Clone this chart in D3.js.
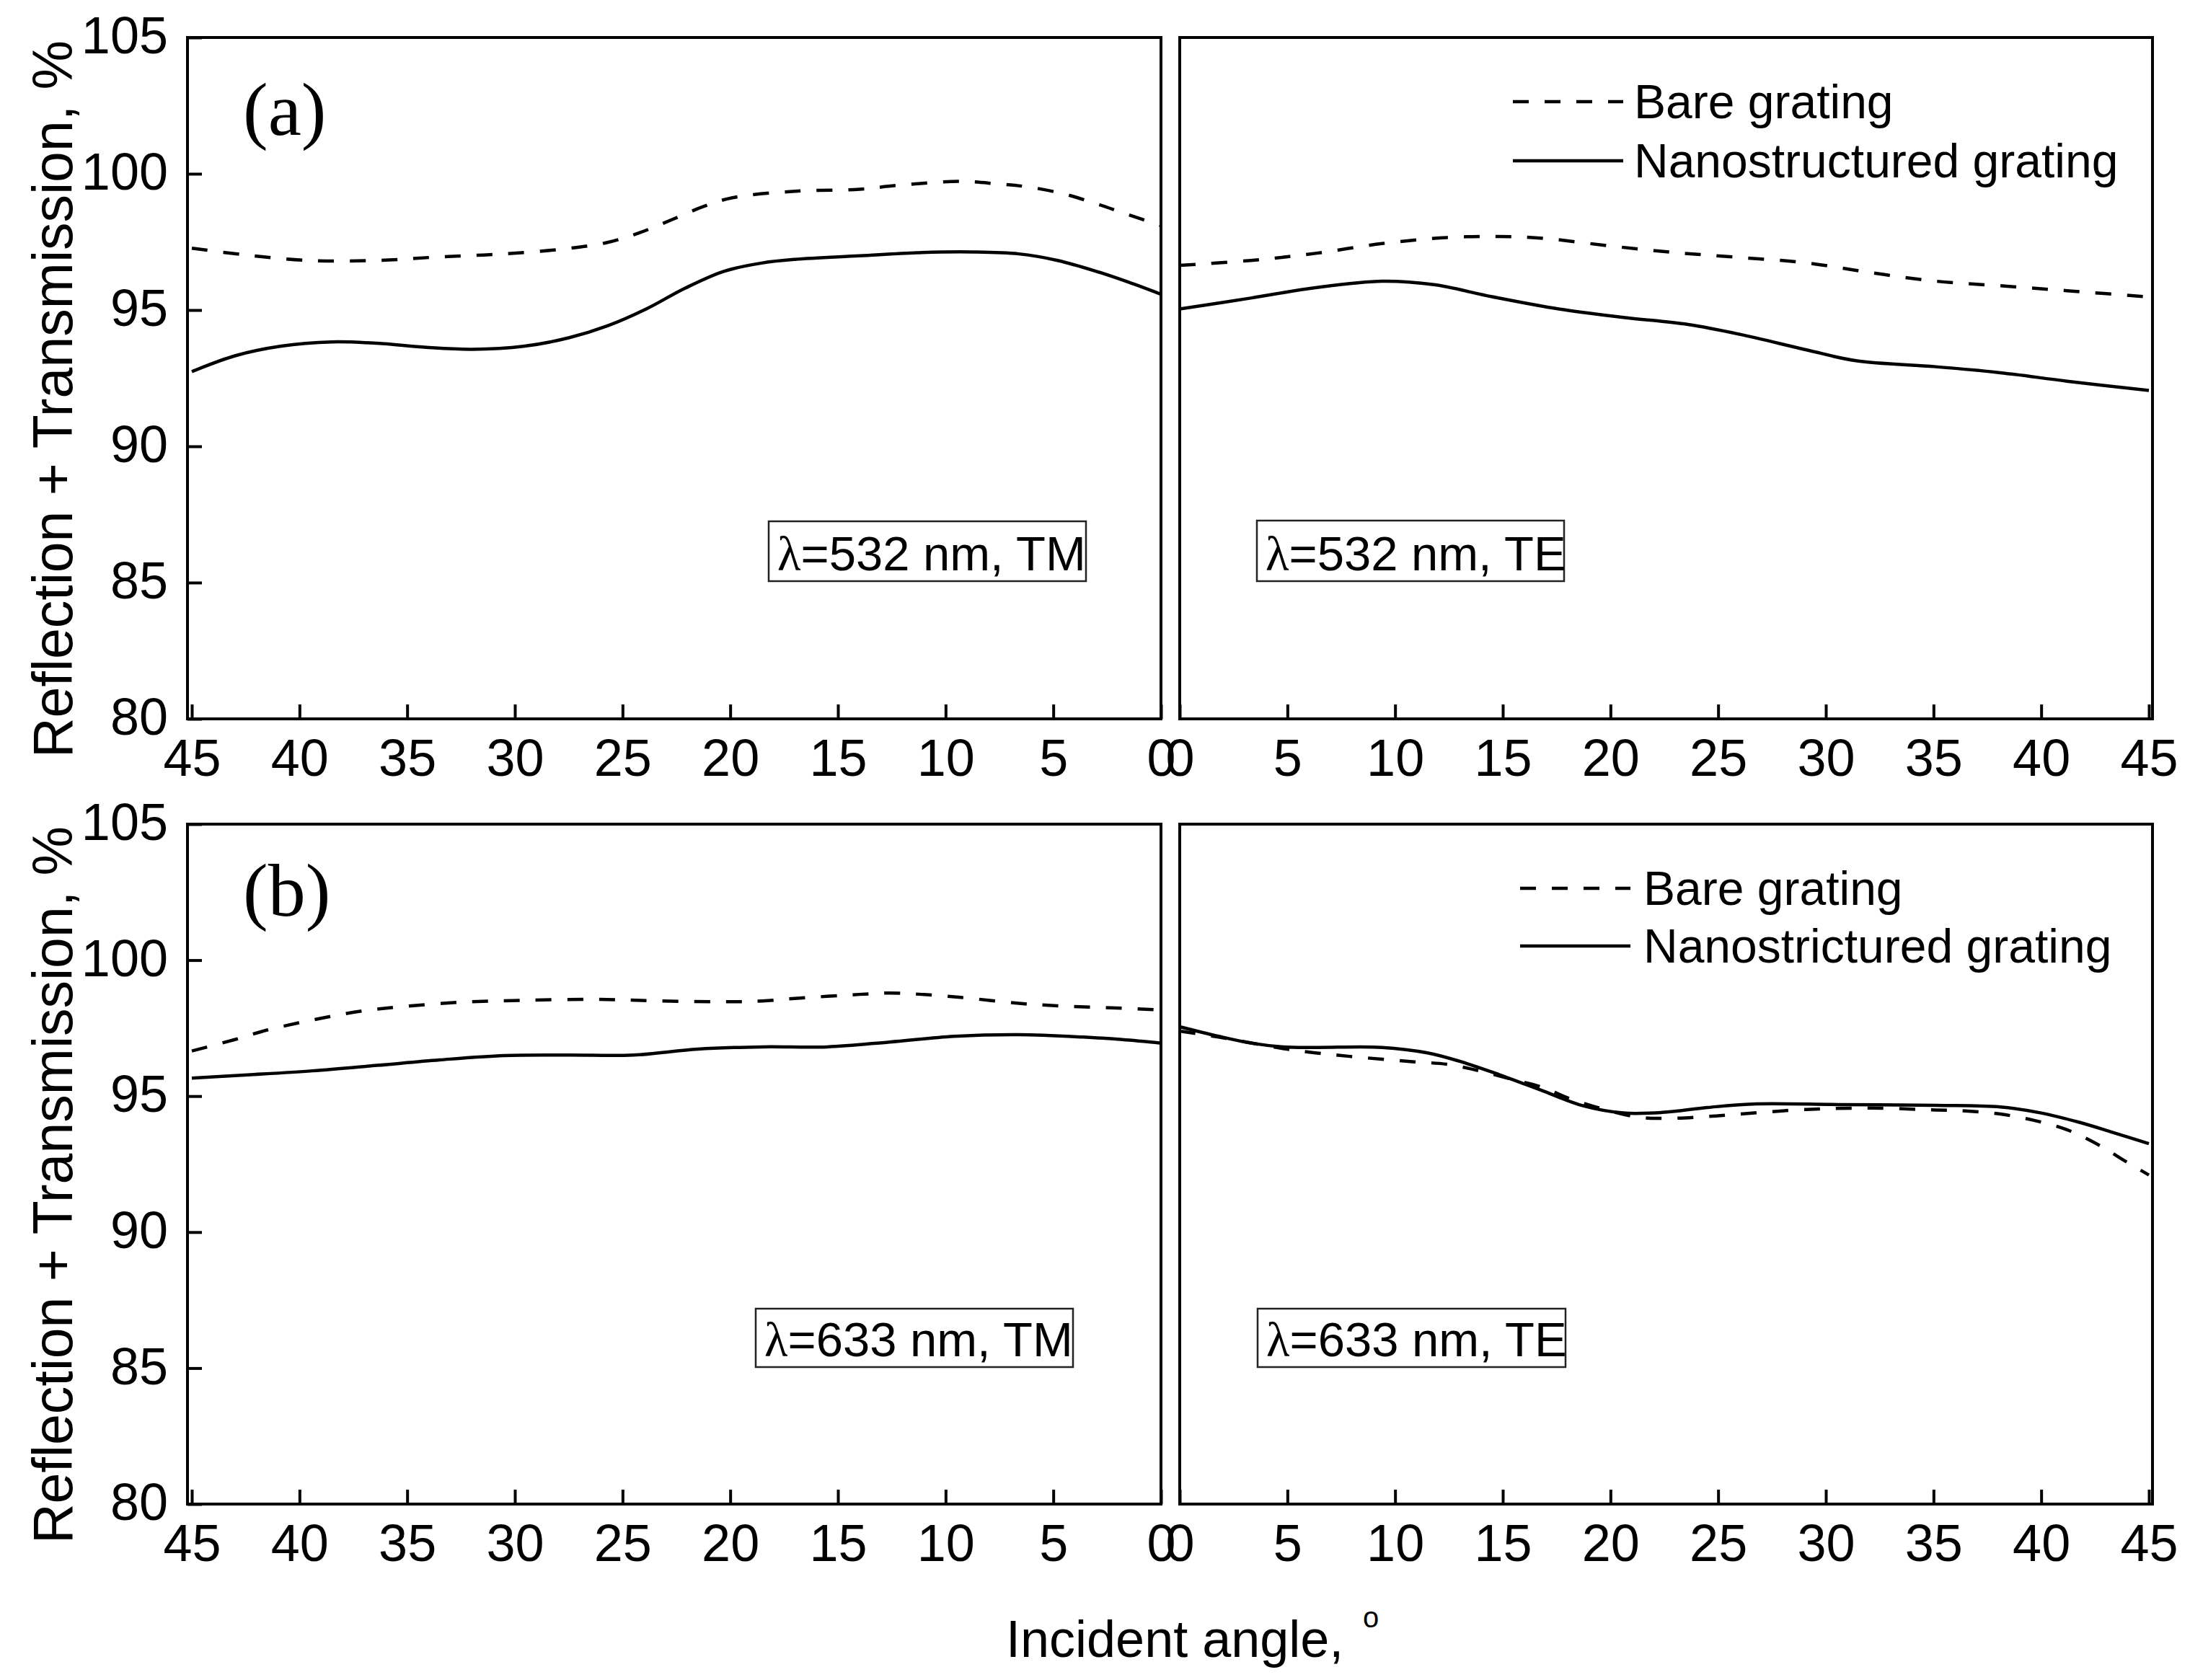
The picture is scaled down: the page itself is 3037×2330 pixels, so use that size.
<!DOCTYPE html>
<html>
<head>
<meta charset="utf-8">
<script src="https://cdn.jsdelivr.net/npm/d3@7"></script>
<style>
  body { margin: 0; background: #fff; }
  svg { display: block; }
  text { font-family: "Liberation Sans", Arial, sans-serif; fill: #000; }
</style>
</head>
<body>
<svg id="chart" width="3037" height="2330"></svg>
<script>
// ---- data ----
var angleTicks = [0, 5, 10, 15, 20, 25, 30, 35, 40, 45];
var valueTicks = [80, 85, 90, 95, 100, 105];

// (a) 532 nm, TM
var tm532BareAngle = [45, 42.7, 39.6, 36.4, 33.5, 30.5, 27.5, 25.7, 24.2, 22.7, 21.2, 19.9, 17, 14, 12.3, 9.3, 7.6, 6.2, 4.5, 3, 1.7, 0];
var tm532Bare = [97.27, 97.04, 96.82, 96.82, 96.95, 97.06, 97.26, 97.48, 97.84, 98.32, 98.81, 99.12, 99.36, 99.43, 99.57, 99.72, 99.63, 99.52, 99.26, 98.90, 98.55, 98.10];
var tm532NanoAngle = [45, 43, 40.9, 38.5, 36.4, 34.1, 32, 29.6, 27.5, 25.7, 23.9, 22.1, 20.3, 18.5, 17, 14, 11.1, 8.7, 6.6, 4.8, 3, 1.5, 0];
var tm532Nano = [92.74, 93.32, 93.67, 93.83, 93.78, 93.63, 93.56, 93.67, 93.98, 94.42, 95.04, 95.80, 96.42, 96.73, 96.86, 96.99, 97.11, 97.13, 97.06, 96.82, 96.42, 96.02, 95.58];

// (a) 532 nm, TE
var te532BareAngle = [0, 3.3, 6.3, 9.4, 12.4, 14.8, 16.9, 20, 23, 26, 29.1, 32.1, 35.1, 38.1, 41.2, 45];
var te532Bare = [96.64, 96.82, 97.08, 97.44, 97.66, 97.70, 97.63, 97.35, 97.11, 96.93, 96.73, 96.37, 96.06, 95.89, 95.71, 95.48];
var te532NanoAngle = [0, 3.3, 6.3, 9.4, 11.8, 14.5, 17.6, 20.6, 23.6, 26, 29.1, 31.4, 35.1, 38.1, 41.2, 45];
var te532Nano = [95.04, 95.44, 95.82, 96.06, 95.93, 95.49, 95.04, 94.73, 94.47, 94.11, 93.54, 93.14, 92.92, 92.70, 92.39, 92.05];

// (b) 633 nm, TM
var tm633BareAngle = [45, 43, 41.5, 40, 38.5, 37, 35.5, 32.6, 29.6, 26.3, 23.3, 20, 18.5, 17, 14, 12.6, 11.1, 9.3, 6.6, 4.8, 1.8, 0];
var tm633Bare = [96.66, 97.08, 97.43, 97.70, 97.94, 98.14, 98.27, 98.45, 98.52, 98.56, 98.50, 98.47, 98.50, 98.59, 98.74, 98.79, 98.74, 98.63, 98.41, 98.32, 98.23, 98.17];
var tm633NanoAngle = [45, 42.4, 39.4, 36.4, 33.5, 30.5, 27.5, 24.5, 21.5, 18.5, 15.5, 12.6, 9.6, 6.6, 3.6, 1.8, 0];
var tm633Nano = [95.66, 95.78, 95.93, 96.13, 96.33, 96.49, 96.51, 96.51, 96.73, 96.81, 96.81, 96.99, 97.20, 97.26, 97.17, 97.08, 96.95];

// (b) 633 nm, TE
var te633BareAngle = [0, 1.8, 4.8, 6.3, 7.9, 10.9, 12.4, 13.9, 15.4, 16.9, 18.1, 21.1, 22.6, 24.5, 26, 29.1, 32.1, 35.1, 36.6, 38.1, 39.6, 41.2, 42.7, 43.9, 45];
var te633Bare = [97.39, 97.17, 96.75, 96.59, 96.46, 96.26, 96.17, 95.93, 95.62, 95.31, 94.91, 94.25, 94.18, 94.25, 94.34, 94.51, 94.56, 94.49, 94.45, 94.34, 94.12, 93.76, 93.19, 92.61, 92.10];
var te633NanoAngle = [0, 1.8, 3.3, 4.8, 6.3, 9.4, 11.5, 13, 14.8, 16.9, 18.7, 20.6, 22.4, 24.5, 26.6, 30.6, 35.1, 38.1, 40, 41.8, 43.3, 45];
var te633Nano = [97.55, 97.20, 96.95, 96.81, 96.79, 96.79, 96.59, 96.28, 95.80, 95.18, 94.65, 94.38, 94.40, 94.58, 94.71, 94.69, 94.66, 94.60, 94.38, 94.03, 93.67, 93.25];

var seriesNames = ["Bare grating", "Nanostructured grating"];
var seriesNamesB = ["Bare grating", "Nanostrictured grating"];
var notes = ["λ=532 nm, TM", "λ=532 nm, TE", "λ=633 nm, TM", "λ=633 nm, TE"];

// ---- layout ----
var svg = d3.select("#chart");
var rows = [{ top: 52, bottom: 997, tag: "(a)", tagY: 187 },
            { top: 1143, bottom: 2086, tag: "(b)", tagY: 1270 }];
var sides = {
  left:  { x0: 260, x1: 1610, range: [266, 1610], domain: [45, 0] },
  right: { x0: 1636, x1: 2985, range: [1636, 2980], domain: [0, 45] }
};

function zip(xs, ys) { return xs.map(function (a, i) { return [a, ys[i]]; }); }

var panels = [
  { row: 0, side: "left",  bare: zip(tm532BareAngle, tm532Bare), nano: zip(tm532NanoAngle, tm532Nano),
    note: notes[0], box: [1066, 723, 440, 83] },
  { row: 0, side: "right", bare: zip(te532BareAngle, te532Bare), nano: zip(te532NanoAngle, te532Nano),
    note: notes[1], box: [1743, 722, 426, 84],
    legend: { x0: 2098, x1: 2251, y: [141, 223], tx: 2266, names: seriesNames } },
  { row: 1, side: "left",  bare: zip(tm633BareAngle, tm633Bare), nano: zip(tm633NanoAngle, tm633Nano),
    note: notes[2], box: [1048, 1815, 440, 81] },
  { row: 1, side: "right", bare: zip(te633BareAngle, te633Bare), nano: zip(te633NanoAngle, te633Nano),
    note: notes[3], box: [1744, 1815, 427, 81],
    legend: { x0: 2108, x1: 2261, y: [1232, 1312], tx: 2279, names: seriesNamesB } }
];

var dash = "22,22";

panels.forEach(function (p) {
  var r = rows[p.row], s = sides[p.side];
  var x = d3.scaleLinear().domain(s.domain).range(s.range);
  var y = d3.scaleLinear().domain([80, 105]).range([r.bottom, r.top]);
  var g = svg.append("g");

  var line = d3.line()
    .x(function (d) { return x(d[0]); })
    .y(function (d) { return y(d[1]); })
    .curve(d3.curveCatmullRom.alpha(0.5));

  g.append("path").datum(p.bare).attr("d", line)
    .attr("fill", "none").attr("stroke", "#000").attr("stroke-width", 4.5)
    .attr("stroke-dasharray", dash);
  g.append("path").datum(p.nano).attr("d", line)
    .attr("fill", "none").attr("stroke", "#000").attr("stroke-width", 4.5);

  // bottom axis, ticks pointing inward
  var xa = g.append("g").attr("transform", "translate(0," + r.bottom + ")")
    .call(d3.axisBottom(x).tickValues(angleTicks).tickSize(-20).tickSizeOuter(0).tickPadding(28));
  xa.select(".domain").remove();
  xa.selectAll("line").attr("stroke-width", 4);
  xa.selectAll("text").attr("font-size", 72)
    .style("font-family", '"Liberation Sans", Arial, sans-serif');

  if (p.side === "left") {
    var ya = g.append("g").attr("transform", "translate(" + s.x0 + ",0)")
      .call(d3.axisLeft(y).tickValues(valueTicks).tickSize(-20).tickSizeOuter(0).tickPadding(27));
    ya.select(".domain").remove();
    ya.selectAll("line").attr("stroke-width", 4);
    ya.selectAll("text").attr("font-size", 72).attr("dy", "0.3em")
      .style("font-family", '"Liberation Sans", Arial, sans-serif');

    g.append("text").attr("x", 337).attr("y", r.tagY)
      .attr("font-size", 104).style("font-family", '"Liberation Serif", "Times New Roman", serif')
      .text(r.tag);
  }

  // frame
  g.append("rect").attr("x", s.x0).attr("y", r.top)
    .attr("width", s.x1 - s.x0).attr("height", r.bottom - r.top)
    .attr("fill", "none").attr("stroke", "#000").attr("stroke-width", 4);

  // note box
  g.append("rect").attr("x", p.box[0]).attr("y", p.box[1])
    .attr("width", p.box[2]).attr("height", p.box[3])
    .attr("fill", "#fff").attr("stroke", "#222").attr("stroke-width", 2.5);
  var nt = g.append("text").attr("x", p.box[0] + 12).attr("y", p.box[1] + p.box[3] - 15)
    .attr("font-size", 67);
  nt.append("tspan").style("font-family", '"Liberation Serif", serif').text(p.note.charAt(0));
  nt.append("tspan").text(p.note.slice(1));

  if (p.legend) {
    var L = p.legend;
    [0, 1].forEach(function (i) {
      g.append("line").attr("x1", L.x0).attr("x2", L.x1)
        .attr("y1", L.y[i]).attr("y2", L.y[i])
        .attr("stroke", "#000").attr("stroke-width", 4.5)
        .attr("stroke-dasharray", i === 0 ? dash : null);
      g.append("text").attr("x", L.tx).attr("y", L.y[i] + 23)
        .attr("font-size", 66).text(L.names[i]);
    });
  }
});

// axis titles
rows.forEach(function (r) {
  var cy = (r.top + r.bottom) / 2 + 29;
  svg.append("text")
    .attr("transform", "translate(100," + cy + ") rotate(-90)")
    .attr("text-anchor", "middle").attr("font-size", 77)
    .text("Reflection + Transmission, %");
});

svg.append("text").attr("x", 1395).attr("y", 2298).attr("font-size", 72)
  .text("Incident angle,");
svg.append("text").attr("x", 1890).attr("y", 2257).attr("font-size", 40)
  .text("o");
</script>
</body>
</html>
